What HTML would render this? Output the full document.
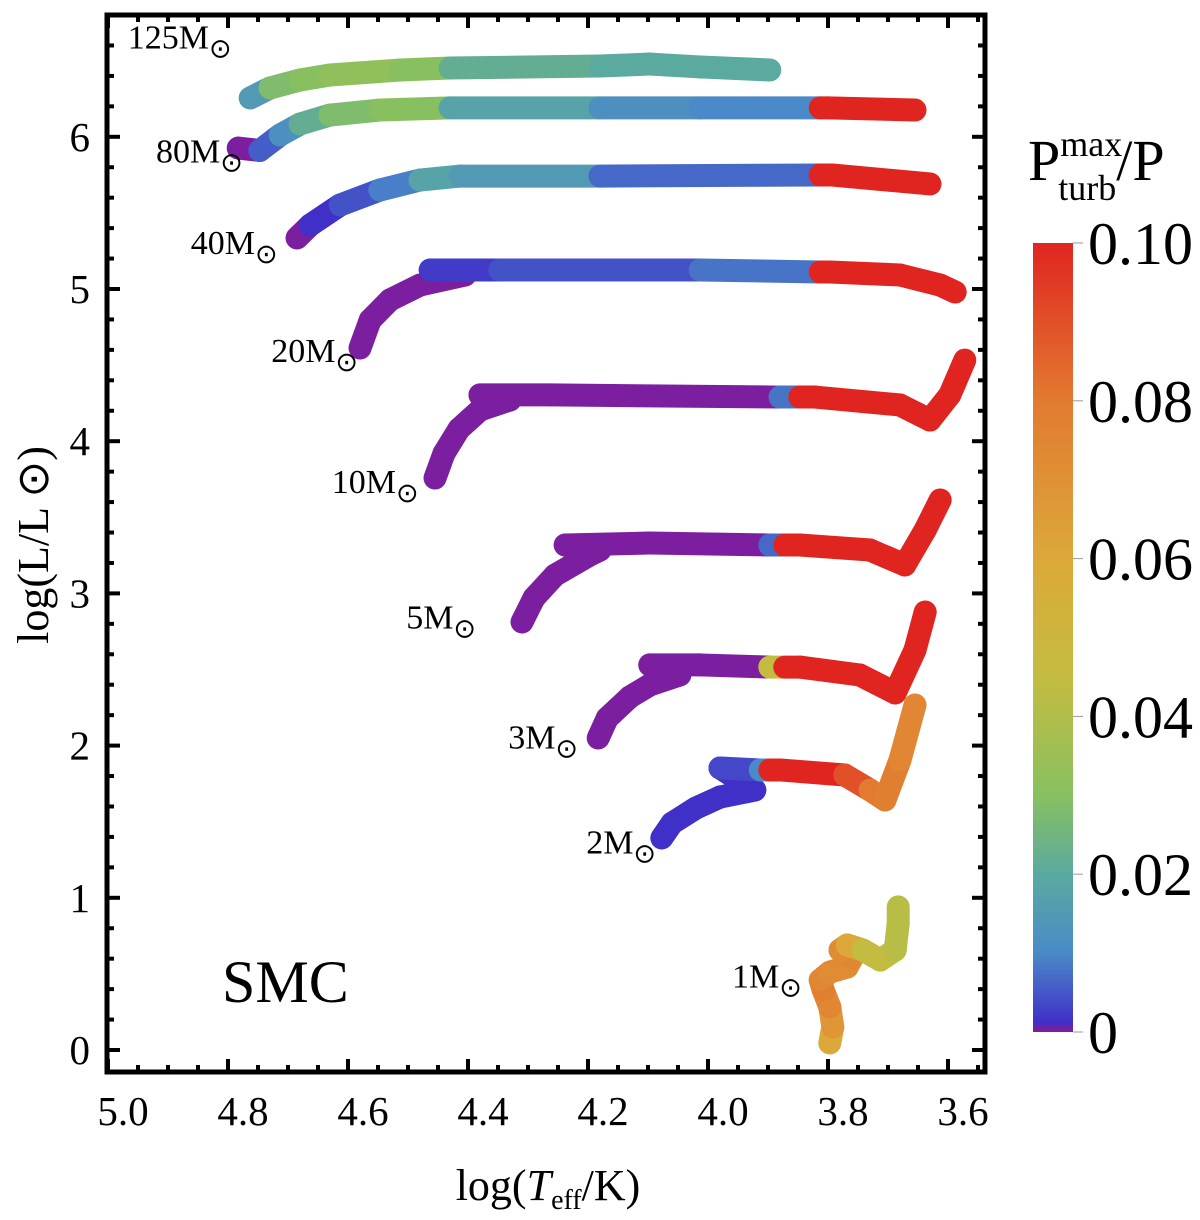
<!DOCTYPE html>
<html><head><meta charset="utf-8"><style>
body{margin:0;background:#fff;}
svg text{font-family:"Liberation Serif",serif;fill:#000;}
</style></head><body>
<svg id="c" width="1200" height="1215" viewBox="0 0 1200 1215" xmlns="http://www.w3.org/2000/svg">
<defs>
<linearGradient id="cbg" x1="0" y1="1" x2="0" y2="0">
<stop offset="0" stop-color="#8a1a90"/><stop offset="0.012" stop-color="#4030c8"/><stop offset="0.1" stop-color="#4a8ac8"/><stop offset="0.2" stop-color="#5aaaa0"/><stop offset="0.3" stop-color="#88c060"/><stop offset="0.45" stop-color="#c4bc40"/><stop offset="0.6" stop-color="#dca83a"/><stop offset="0.8" stop-color="#e27a30"/><stop offset="1" stop-color="#e02520"/>
</linearGradient>
</defs>
<g id="tracks"></g>
<rect x="107" y="15" width="878" height="1057" fill="none" stroke="#000" stroke-width="5"/>
<g id="ticks"></g>
<text x="222" y="1002" font-size="60">SMC</text>
<text x="548" y="1200" font-size="44" text-anchor="middle">log(<tspan font-style="italic">T</tspan><tspan font-size="28" dy="9">eff</tspan><tspan dy="-9">/K)</tspan></text>
<text transform="translate(48,545) rotate(-90)" font-size="44" text-anchor="middle">log(L/L ⊙)</text>
<rect x="1033" y="243" width="40" height="789" fill="url(#cbg)"/>
<text x="1028" y="180" font-size="58">P<tspan font-size="36" dy="-24">max</tspan><tspan font-size="36" dx="-64" dy="44">turb</tspan><tspan dy="-20">/P</tspan></text>
<g id="cb"></g>
</svg>
<script>
const NS="http://www.w3.org/2000/svg";
const xTicks=[5.0,4.8,4.6,4.4,4.2,4.0,3.8,3.6];
const xTickLabels=["5.0","4.8","4.6","4.4","4.2","4.0","3.8","3.6"];
const yTicks=[0,1,2,3,4,5,6];
const cbTicks=[0,0.02,0.04,0.06,0.08,0.10];
const cbLabels=["0","0.02","0.04","0.06","0.08","0.10"];
const starNames=["125","80","40","20","10","5","3","2","1"];
const T125=[4.763,4.73,4.68,4.63,4.513,4.43,4.18,4.097,4.013,3.897];
const L125=[6.255,6.321,6.373,6.406,6.439,6.452,6.465,6.478,6.459,6.439];
const P125=[0.005,0.015,0.028,0.03,0.032,0.03,0.022,0.02,0.02,0.02];
const T80=[4.783,4.747,4.713,4.68,4.63,4.547,4.43,4.18,4.013,3.813,3.8,3.655];
const L80=[5.926,5.91,6.012,6.084,6.143,6.176,6.19,6.19,6.19,6.19,6.19,6.176];
const P80=[0,0,0.006,0.012,0.022,0.028,0.03,0.018,0.012,0.01,0.1,0.1];
const T40=[4.685,4.663,4.613,4.547,4.48,4.413,4.18,3.813,3.793,3.63];
const L40=[5.335,5.42,5.552,5.65,5.716,5.742,5.742,5.749,5.749,5.69];
const P40=[0,0,0.002,0.005,0.009,0.018,0.015,0.007,0.1,0.1];
const T20=[4.58,4.563,4.53,4.48,4.405,4.463,4.347,4.013,3.813,3.797,3.68,3.613,3.588];
const L20=[4.612,4.796,4.928,5.026,5.092,5.125,5.125,5.125,5.112,5.112,5.092,5.026,4.98];
const P20=[0,0,0,0,0,0,0.003,0.005,0.008,0.1,0.1,0.1,0.1];
const T10=[4.455,4.44,4.415,4.38,4.33,4.38,4.263,3.88,3.847,3.822,3.68,3.63,3.597,3.572];
const L10=[3.758,3.92,4.08,4.205,4.271,4.304,4.304,4.29,4.29,4.29,4.238,4.139,4.304,4.533];
const P10=[0,0,0,0,0,0,0,0,0.008,0.1,0.1,0.1,0.1,0.1];
const T5=[4.31,4.29,4.255,4.197,4.18,4.238,4.097,3.897,3.872,3.847,3.73,3.672,3.638,3.613];
const L5=[2.812,2.97,3.12,3.252,3.285,3.318,3.331,3.318,3.318,3.318,3.285,3.187,3.417,3.614];
const P5=[0,0,0,0,0,0,0,0,0.007,0.1,0.1,0.1,0.1,0.1];
const T3=[4.183,4.168,4.13,4.097,4.047,4.097,4.013,3.897,3.872,3.847,3.747,3.688,3.655,3.638];
const L3=[2.05,2.18,2.32,2.398,2.464,2.53,2.53,2.516,2.516,2.516,2.464,2.346,2.628,2.878];
const P3=[0,0,0,0,0,0,0,0,0.045,0.1,0.1,0.1,0.1,0.1];
const T2=[4.077,4.06,4.02,3.98,3.922,3.98,3.913,3.897,3.88,3.772,3.73,3.705,3.68,3.655];
const L2=[1.393,1.49,1.59,1.662,1.708,1.853,1.84,1.84,1.84,1.807,1.708,1.643,1.905,2.267];
const P2=[0.002,0.002,0.002,0.002,0.002,0.002,0.004,0.01,0.1,0.1,0.09,0.08,0.078,0.075];
const T1=[3.797,3.792,3.797,3.808,3.813,3.797,3.768,3.76,3.78,3.768,3.742,3.713,3.688,3.683,3.683];
const L1=[0.046,0.151,0.283,0.394,0.46,0.512,0.545,0.604,0.657,0.69,0.657,0.591,0.657,0.834,0.94];
const P1=[0.055,0.06,0.068,0.075,0.078,0.075,0.072,0.072,0.075,0.072,0.06,0.045,0.045,0.042,0.042];
const tracksT=[T125,T80,T40,T20,T10,T5,T3,T2,T1];
const tracksL=[L125,L80,L40,L20,L10,L5,L3,L2,L1];
const tracksP=[P125,P80,P40,P20,P10,P5,P3,P2,P1];
const labelT=[4.967,4.92,4.862,4.728,4.627,4.503,4.333,4.203,3.96];
const labelL=[6.58,5.83,5.23,4.52,3.66,2.77,1.98,1.29,0.41];

const xs=t=>108+(5-t)*600;
const ys=l=>1050-l*152.2;
const cbY=v=>1032-v*7890;
const stops=[[0,[123,31,160]],[0.002,[64,48,200]],[0.01,[74,138,200]],[0.02,[90,170,160]],[0.03,[136,192,96]],[0.045,[196,188,64]],[0.06,[220,168,58]],[0.08,[226,122,48]],[0.1,[224,37,32]]];
function col(v){v=Math.max(0,Math.min(0.1,v));for(let i=1;i<stops.length;i++){if(v<=stops[i][0]){const a=stops[i-1],b=stops[i],f=(v-a[0])/(b[0]-a[0]);return 'rgb('+a[1].map((c,k)=>Math.round(c+(b[1][k]-c)*f)).join(',')+')';}}return 'rgb(224,37,32)';}
function mk(tag,attrs,parent){const e=document.createElementNS(NS,tag);for(const k in attrs)e.setAttribute(k,attrs[k]);parent.appendChild(e);return e;}
const tg=document.getElementById('tracks');
tracksT.forEach((T,s)=>{
  const L=tracksL[s],P=tracksP[s];
  const g=mk('g',{},tg);
  
  
  for(let i=0;i<T.length-1;i++){
    const seg=mk('line',{x1:xs(T[i]),y1:ys(L[i]),x2:xs(T[i+1]),y2:ys(L[i+1]),stroke:col(P[i+1]),'stroke-width':23,'stroke-linecap':'round'},g);
    
    
  }
  const lb=mk('text',{x:xs(labelT[s]),y:ys(labelL[s]),'font-size':34},tg);
  
  
  lb.innerHTML=starNames[s]+'M<tspan font-size="27" dy="9">⊙</tspan>';
});
const tk=document.getElementById('ticks');
for(let t=5.0;t>=3.54;t-=0.05){
  const x=xs(t),maj=Math.abs(t*5-Math.round(t*5))<0.01,len=maj?13:7;
  mk('line',{x1:x,y1:1072,x2:x,y2:1072-len,stroke:'#000','stroke-width':4},tk);
  mk('line',{x1:x,y1:15,x2:x,y2:15+len,stroke:'#000','stroke-width':4},tk);
}
xTicks.forEach((t,i)=>{const e=mk('text',{x:xs(t)+15,y:1125,'font-size':41,'text-anchor':'middle'},tk);e.textContent=xTickLabels[i];
  
  });
for(let l=-0.2;l<=6.8;l+=0.2){
  const y=ys(l);if(y<15||y>1072)continue;const maj=Math.abs(l-Math.round(l))<0.01,len=maj?13:7;
  mk('line',{x1:107,y1:y,x2:107+len,y2:y,stroke:'#000','stroke-width':4},tk);
  mk('line',{x1:985,y1:y,x2:985-len,y2:y,stroke:'#000','stroke-width':4},tk);
}
yTicks.forEach(l=>{const e=mk('text',{x:90,y:ys(l)+14,'font-size':41,'text-anchor':'end'},tk);e.textContent=l;
  
  });
const cb=document.getElementById('cb');
cbTicks.forEach((v,i)=>{const y=cbY(v);
  mk('line',{x1:1073,y1:y,x2:1083,y2:y,stroke:'#999','stroke-width':1},cb);
  const e=mk('text',{x:1088,y:y+21,'font-size':60},cb);e.textContent=cbLabels[i];
  
  });
</script>
</body></html>
